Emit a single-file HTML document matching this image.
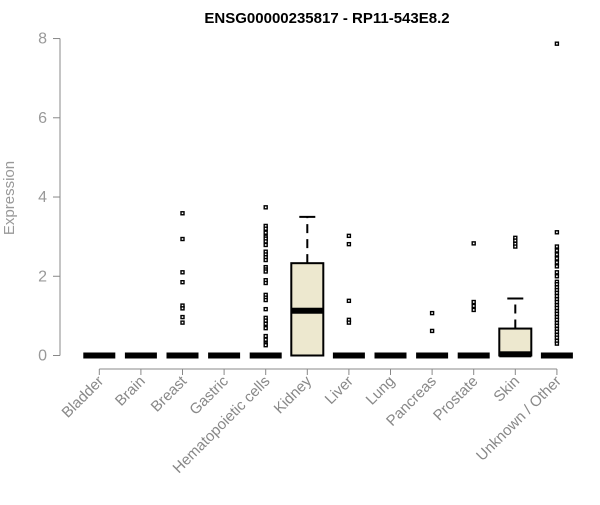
<!DOCTYPE html>
<html><head><meta charset="utf-8"><style>
body{margin:0;background:#fff}
svg text{font-family:"Liberation Sans",sans-serif}
</style></head><body>
<svg id="chart" width="600" height="500">
<text x="327" y="23" text-anchor="middle" font-weight="bold" font-size="15" fill="#000">ENSG00000235817 - RP11-543E8.2</text>
<text transform="translate(14,198) rotate(-90)" text-anchor="middle" font-size="15" fill="#999">Expression</text>
<g id="yaxis"></g>
<g id="xaxis"></g>
<g id="boxes"></g>
</svg>
<script>
const categories=["Bladder","Brain","Breast","Gastric","Hematopoietic cells","Kidney","Liver","Lung","Pancreas","Prostate","Skin","Unknown / Other"];
const q1=[0,0,0,0,0,0,0,0,0,0,0,0];
const medians=[0,0,0,0,0,1.13,0,0,0,0,0.03,0];
const q3=[0,0,0,0,0,2.33,0,0,0,0,0.68,0];
const whiskerHigh=[0,0,0,0,0,3.5,0,0,0,0,1.44,0];
const outliers=[
[],[],
[3.59,2.94,2.1,1.85,1.26,1.19,0.97,0.83],
[],
[3.74,3.27,3.2,3.1,3.0,2.95,2.88,2.79,2.62,2.55,2.48,2.41,2.23,2.17,2.12,1.9,1.83,1.53,1.46,1.4,1.17,0.95,0.88,0.8,0.69,0.49,0.4,0.3,0.26],
[],
[3.02,2.81,1.38,0.9,0.83],
[],
[1.07,0.62],
[2.83,1.35,1.25,1.15],
[2.97,2.9,2.82,2.75],
[7.87,3.11,2.75,2.65,2.55,2.45,2.35,2.25,2.1,2.0,1.86,1.8,1.72,1.65,1.58,1.5,1.42,1.35,1.27,1.2,1.12,1.05,0.97,0.9,0.82,0.75,0.67,0.6,0.52,0.45,0.37,0.3]
];
const yTicks=[0,2,4,6,8];
const NS="http://www.w3.org/2000/svg";
const y=v=>355.5-v*39.62;
const x=i=>99.3+i*41.6;
function mk(tag,attrs,parent){const e=document.createElementNS(NS,tag);for(const k in attrs)e.setAttribute(k,attrs[k]);parent.appendChild(e);return e;}
const ya=document.getElementById('yaxis');
mk('line',{x1:60,x2:60,y1:y(0),y2:y(8),stroke:'#888'},ya);
yTicks.forEach(t=>{
  mk('line',{x1:53,x2:60,y1:y(t),y2:y(t),stroke:'#888'},ya);
  const tx=mk('text',{x:47,y:y(t)+5,'text-anchor':'end','font-size':16,fill:'#999'},ya);
  tx.textContent=t;
  
  
});
const xa=document.getElementById('xaxis');
mk('line',{x1:x(0),x2:x(11),y1:369,y2:369,stroke:'#888'},xa);
categories.forEach((c,i)=>{
  mk('line',{x1:x(i),x2:x(i),y1:369,y2:375,stroke:'#888'},xa);
  const tx=mk('text',{transform:`translate(${x(i)+5},${382}) rotate(-45)`,'text-anchor':'end','font-size':15,fill:'#888'},xa);
  tx.textContent=c;
  
  
});
const bx=document.getElementById('boxes');
const hw=16;
categories.forEach((c,i)=>{
  const g=mk('g',{},bx);
  
  
  const cx=x(i);
  if(whiskerHigh[i]>q3[i]){
    mk('line',{x1:cx,x2:cx,y1:y(q3[i]),y2:y(whiskerHigh[i]),stroke:'#000','stroke-width':2,'stroke-dasharray':'9,6'},g);
    mk('line',{x1:cx-8,x2:cx+8,y1:y(whiskerHigh[i]),y2:y(whiskerHigh[i]),stroke:'#000','stroke-width':2},g);
  }
  if(q3[i]>q1[i]){
    mk('rect',{x:cx-hw,y:y(q3[i]),width:hw*2,height:y(q1[i])-y(q3[i]),fill:'#ede8cf',stroke:'#000','stroke-width':2},g);
  }
  mk('rect',{x:cx-hw,y:y(medians[i])-3,width:hw*2,height:6,fill:'#000'},g);
  outliers[i].forEach(v=>{
    const r=mk('rect',{x:cx-1.5,y:y(v)-1.5,width:3,height:3,fill:'#fff',stroke:'#000','stroke-width':1.4},g);
    
    
  });
});
</script>
</body></html>
